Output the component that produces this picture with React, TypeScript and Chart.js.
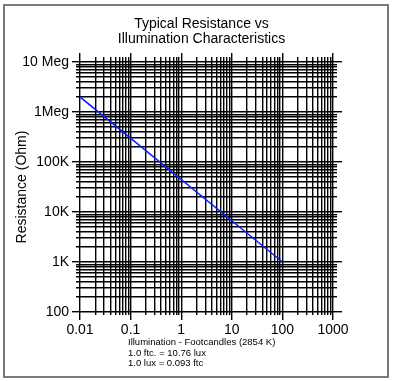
import { useEffect, useRef } from 'react';
import { Chart, registerables } from 'chart.js';

Chart.register(...registerables);

const titleLines = ['Typical Resistance vs', 'Illumination Characteristics'];
const yAxisTitle = 'Resistance (Ohm)';
const xDecades = [0.01, 0.1, 1, 10, 100, 1000];
const xDecadeLabels = ['0.01', '0.1', '1', '10', '100', '1000'];
const yDecades = [100, 1000, 10000, 100000, 1000000, 10000000];
const yDecadeLabels = ['100', '1K', '10K', '100K', '1Meg', '10 Meg'];
const minorSteps = [1, 2, 3, 4, 5, 6, 7, 8, 9];
const illuminationFtc = [0.01, 100];
const resistanceOhm = [2000000, 1000];
const footnoteLines = [
  'Illumination - Footcandles (2854 K)',
  '1.0 ftc. = 10.76 lux',
  '1.0 lux = 0.093 ftc',
];

const FONT = '"Liberation Sans", Arial, Helvetica, sans-serif';

function buildTicks(decades: number[]) {
  const out: { value: number; major: boolean }[] = [];
  decades.forEach((d, i) => {
    if (i === decades.length - 1) {
      out.push({ value: d, major: false });
      return;
    }
    minorSteps.forEach((k) => out.push({ value: +(k * d).toPrecision(6), major: false }));
  });
  return out;
}

function isDecade(v: number) {
  const l = Math.log10(v);
  return Math.abs(l - Math.round(l)) < 1e-6;
}

function labelFor(decades: number[], labels: string[]) {
  return (value: any) => {
    const v = Number(value);
    const i = decades.findIndex((d) => Math.abs(d - v) / d < 1e-6);
    return i >= 0 ? labels[i] : '';
  };
}

// dash patterns so minor ticks are shorter than decade ticks
function dashFarToNear(tl: number, minor: number) {
  return (ctx: any) => (ctx && ctx.tick && !isDecade(ctx.tick.value) ? [0, tl - minor, minor, 200] : []);
}
function dashNearToFar(minor: number) {
  return (ctx: any) => (ctx && ctx.tick && !isDecade(ctx.tick.value) ? [minor, 200] : []);
}

const footnotePlugin = {
  id: 'footnote',
  afterDraw(chart: any) {
    const { ctx, chartArea } = chart;
    ctx.save();
    ctx.font = `9.5px ${FONT}`;
    ctx.fillStyle = '#000';
    ctx.textAlign = 'left';
    ctx.textBaseline = 'alphabetic';
    footnoteLines.forEach((t, i) => {
      ctx.fillText(t, chartArea.left + 48, chartArea.bottom + 33.3 + i * 10.4);
    });
    ctx.restore();
  },
};

export default function App() {
  const ref = useRef<HTMLCanvasElement | null>(null);

  useEffect(() => {
    if (!ref.current) return;
    Chart.defaults.font.family = FONT;
    const gridColor = '#000';
    const gridWidth = 1.4;
    const chart = new Chart(ref.current, {
      type: 'line',
      data: {
        datasets: [
          {
            data: illuminationFtc.map((x, i) => ({ x, y: resistanceOhm[i] })),
            borderColor: '#0a1eff',
            borderWidth: 1.5,
            pointRadius: 0,
            fill: false,
          },
        ],
      },
      options: {
        responsive: false,
        animation: false,
        layout: { padding: { left: 3, right: 0, top: 0, bottom: 0 } },
        plugins: {
          legend: { display: false },
          tooltip: { enabled: false },
          title: {
            display: true,
            text: titleLines,
            color: '#000',
            font: { size: 14, weight: 'normal', lineHeight: 1.12, family: FONT },
            padding: { top: 16, bottom: 5.64 },
          },
        },
        scales: {
          x: {
            type: 'logarithmic',
            position: 'bottom',
            min: 0.01,
            max: 1000,
            afterBuildTicks: (s: any) => {
              s.ticks = buildTicks(xDecades);
            },
            afterFit: (s: any) => {
              s.height = 69;
            },
            border: { display: false },
            grid: {
              color: gridColor,
              lineWidth: gridWidth,
              drawTicks: true,
              tickLength: 8,
              tickBorderDash: dashNearToFar(3),
            },
            ticks: {
              autoSkip: false,
              maxRotation: 0,
              padding: 2,
              color: '#000',
              font: { size: 14 },
              callback: labelFor(xDecades, xDecadeLabels),
            },
          },
          x2: {
            type: 'logarithmic',
            position: 'top',
            min: 0.01,
            max: 1000,
            afterBuildTicks: (s: any) => {
              s.ticks = buildTicks(xDecades);
            },
            afterFit: (s: any) => {
              s.height = 9;
            },
            border: { display: false },
            grid: {
              drawOnChartArea: false,
              color: gridColor,
              lineWidth: gridWidth,
              drawTicks: true,
              tickLength: 9,
              tickBorderDash: dashFarToNear(9, 5),
            },
            ticks: { display: false, autoSkip: false },
          },
          y: {
            type: 'logarithmic',
            position: 'left',
            min: 100,
            max: 10000000,
            afterBuildTicks: (s: any) => {
              s.ticks = buildTicks(yDecades);
            },
            afterFit: (s: any) => {
              s.width = 77;
            },
            border: { display: false },
            grid: {
              color: gridColor,
              lineWidth: gridWidth,
              drawTicks: true,
              tickLength: 8,
              tickBorderDash: dashFarToNear(8, 4),
            },
            ticks: {
              autoSkip: false,
              padding: 3,
              color: '#000',
              font: { size: 14 },
              callback: labelFor(yDecades, yDecadeLabels),
            },
            title: {
              display: true,
              text: yAxisTitle,
              color: '#000',
              font: { size: 14 },
              padding: { top: 11, bottom: 0 },
            },
          },
          y2: {
            type: 'logarithmic',
            position: 'right',
            min: 100,
            max: 10000000,
            afterBuildTicks: (s: any) => {
              s.ticks = buildTicks(yDecades);
            },
            afterFit: (s: any) => {
              s.width = 67;
            },
            border: { display: false },
            grid: {
              drawOnChartArea: false,
              color: gridColor,
              lineWidth: gridWidth,
              drawTicks: true,
              tickLength: 9,
              tickBorderDash: dashNearToFar(4),
            },
            ticks: { display: false, autoSkip: false },
          },
        },
      } as any,
      plugins: [footnotePlugin],
    });
    return () => chart.destroy();
  }, []);

  return (
    <div
      style={{
        position: 'fixed',
        left: 0,
        top: 0,
        width: 400,
        height: 381,
        background: '#fff',
        overflow: 'hidden',
      }}
    >
      <div
        style={{
          position: 'absolute',
          left: 3,
          top: 4,
          width: 386,
          height: 374,
          boxSizing: 'border-box',
          border: '2px solid #7a7a7a',
        }}
      />
      <canvas
        ref={ref}
        width={400}
        height={381}
        style={{ position: 'absolute', left: 0, top: 0, display: 'block', width: 400, height: 381 }}
      />
    </div>
  );
}
